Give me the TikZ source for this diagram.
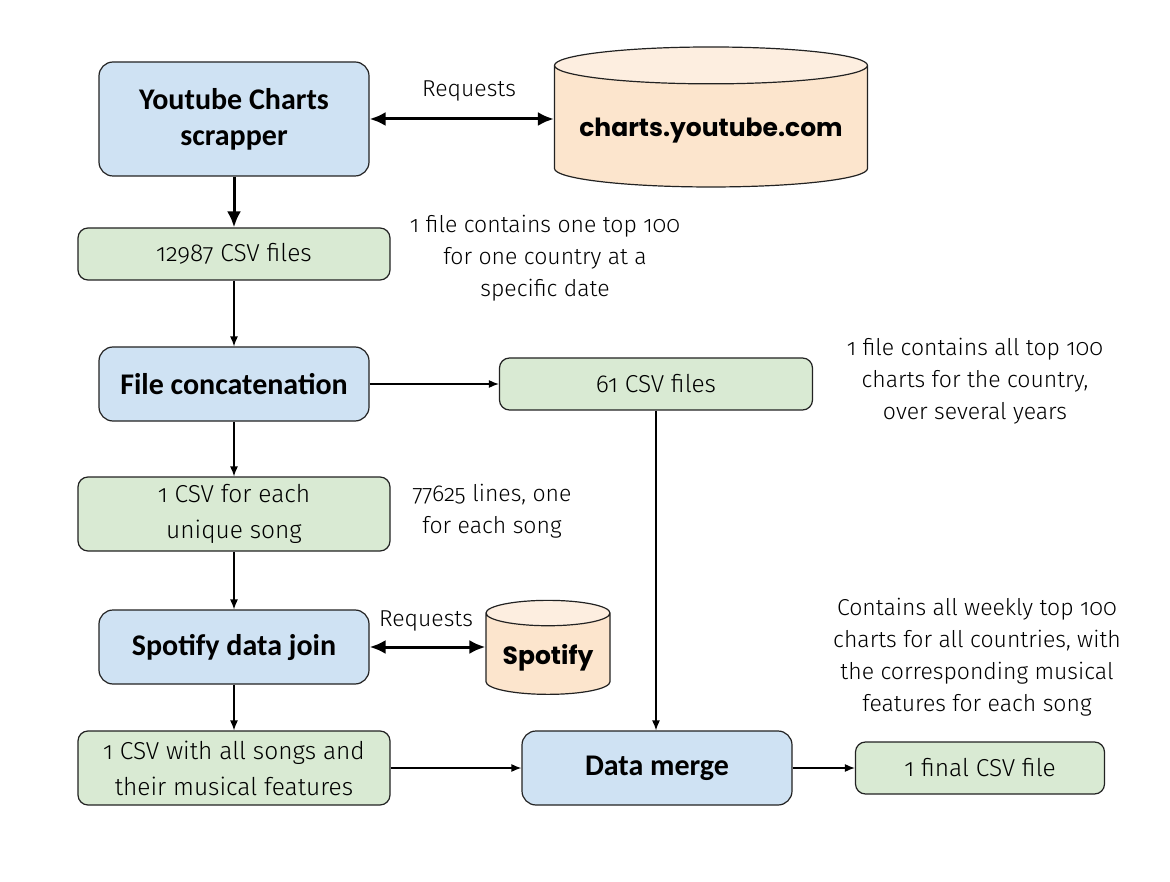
\documentclass[tikz,border=0pt]{standalone}
\usepackage{fontspec}
\setmainfont{Fira Sans}[UprightFont=* Light, RawFeature=+onum]
\newfontfamily\titleFont{Carlito}
\newfontfamily\dbFont{Poppins}
\usetikzlibrary{shapes.geometric, arrows.meta, positioning}
\definecolor{procBlue}{HTML}{CFE2F3}
\definecolor{fileGreen}{HTML}{D9EAD3}
\definecolor{dbOrange}{HTML}{FCE5CD}
\definecolor{dbOrangeTop}{HTML}{FDEEE0}
\definecolor{edgeGrey}{HTML}{222222}
\newcommand\lowerText[1]{\smash{\raisebox{-10pt}{#1}}}
\tikzset{
	procNode/.style={
		draw=edgeGrey,
		fill=procBlue,
		line width=1.2pt,
		rounded corners=14pt,
		minimum width=270pt,
		minimum height=74pt,
		inner sep=0pt,
		align=center,
		font=\titleFont\bfseries\fontsize{30}{36}\selectfont
	},
	fileNode/.style={
		draw=edgeGrey,
		fill=fileGreen,
		line width=1.2pt,
		rounded corners=10pt,
		minimum width=312pt,
		minimum height=52pt,
		inner sep=0pt,
		align=center,
		font=\fontsize{24.5}{36}\selectfont
	},
	dbNode/.style={
		cylinder,
		shape border rotate=90,
		draw=edgeGrey,
		line width=1.2pt,
		cylinder uses custom fill,
		cylinder body fill=dbOrange,
		cylinder end fill=dbOrangeTop,
		inner sep=0pt,
		font=\dbFont\bfseries\fontsize{25}{30}\selectfont
	},
	noteText/.style={
		align=center,
		inner sep=0pt,
		font=\fontsize{23}{32}\selectfont
	},
	thinEdge/.style={line width=1.3pt, -{Latex[length=10pt, width=8pt]}},
	boldEdge/.style={line width=3pt, -{Latex[length=16pt, width=14pt]}},
	reqEdge/.style={line width=3pt, {Latex[length=16pt, width=14pt]}-{Latex[length=16pt, width=14pt]}},
}

\begin{document}
\begin{tikzpicture}[x=1pt, y=-1pt
    ,   wideFile/.style={fileNode, minimum height=74pt}]
\useasboundingbox (0,0) rectangle (1170,882);

% left column
\node[procNode] (scrapper) at (234,119) [minimum height=114pt]{Youtube Charts\\scrapper};
\node[fileNode] (rawFiles) at (234,254){12987 CSV files};
\node[procNode] (concat) at (234,384){File concatenation};
\node[wideFile] (uniqueSongs) at (234,514){1 CSV for each\\unique song};
\node[procNode] (spotJoin) at (234,647){Spotify data join};
\node[wideFile] (featSongs) at (234,768){1 CSV with all songs and\\their musical features};

% right side
\node[dbNode, minimum width=313pt, minimum height=140pt, aspect=0.14] (ytDb) at (711,126.5){\lowerText{charts.youtube.com}};
\node[dbNode, minimum width=124pt, minimum height=94pt, aspect=0.28] (spotDb) at (548,654){\lowerText{Spotify}};
\node[fileNode, minimum width=313pt] (countryFiles) at (656,384){61 CSV files};
\node[procNode] (merge) at (657,768){Data merge};
\node[fileNode, minimum width=249pt] (finalFile) at (980,768){1 final CSV file};

% notes
\node[noteText] (reqTop) at (469,91){Requests};
\node[noteText] (reqSpot) at (426,621){Requests};
\node[noteText] (noteRaw) at (545,258){1 file contains one top 100\\for one country at a\\specific date};
\node[noteText] (noteCountry) at (975,381){1 file contains all top 100\\charts for the country,\\over several years};
\node[noteText] (noteUnique) at (492,511){77625 lines, one\\for each song};
\node[noteText] (noteFinal) at (977,657){Contains all weekly top 100\\charts for all countries, with\\the corresponding musical\\features for each song};

\path[reqEdge] (scrapper.east) edge (scrapper.east -| ytDb.west);
\path[reqEdge] (spotJoin.east) edge (spotJoin.east -| spotDb.west);
\path[boldEdge] (scrapper) edge (rawFiles);
\path[thinEdge] (rawFiles) edge (concat);
\path[thinEdge] (concat) edge (countryFiles);
\path[thinEdge] (concat) edge (uniqueSongs);
\path[thinEdge] (uniqueSongs) edge (spotJoin);
\path[thinEdge] (spotJoin) edge (featSongs);
\path[thinEdge] (featSongs) edge (merge);
\path[thinEdge] (countryFiles.south) edge (countryFiles.south |- merge.north);
\path[thinEdge] (merge) edge (finalFile);

\end{tikzpicture}
\end{document}
